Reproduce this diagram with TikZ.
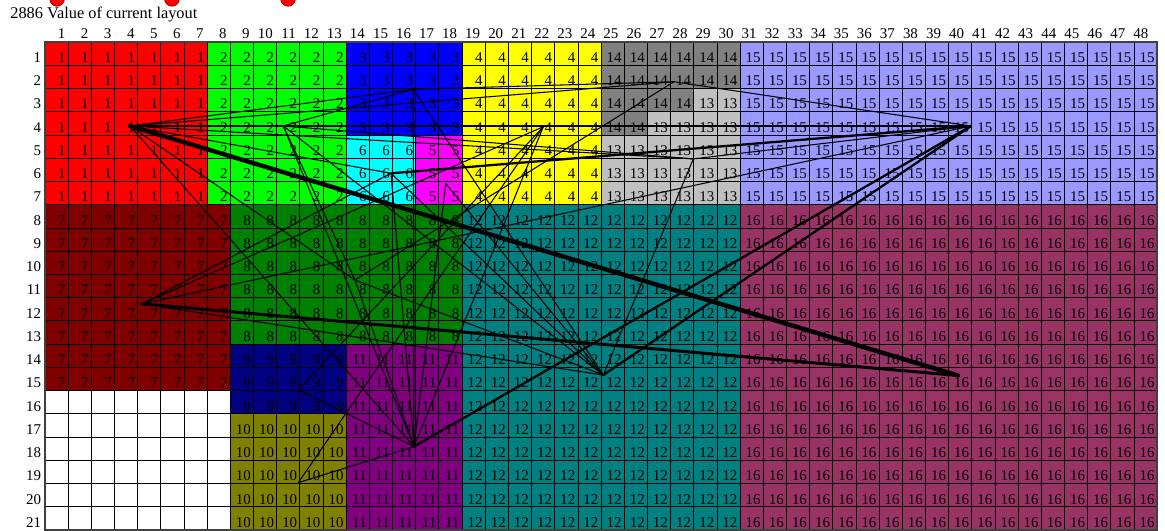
\documentclass[tikz,border=0pt]{standalone}
\usepackage{fontspec}
\setmainfont{Liberation Serif}
\usetikzlibrary{positioning, calc}
\definecolor{dep1}{RGB}{255,0,0}
\definecolor{dep2}{RGB}{0,255,0}
\definecolor{dep3}{RGB}{0,0,255}
\definecolor{dep4}{RGB}{255,255,0}
\definecolor{dep5}{RGB}{255,0,255}
\definecolor{dep6}{RGB}{0,255,255}
\definecolor{dep7}{RGB}{128,0,0}
\definecolor{dep8}{RGB}{0,128,0}
\definecolor{dep9}{RGB}{0,0,128}
\definecolor{dep10}{RGB}{128,128,0}
\definecolor{dep11}{RGB}{128,0,128}
\definecolor{dep12}{RGB}{0,128,128}
\definecolor{dep13}{RGB}{192,192,192}
\definecolor{dep14}{RGB}{128,128,128}
\definecolor{dep15}{RGB}{153,153,255}
\definecolor{dep16}{RGB}{153,51,102}

\begin{document}
\begin{tikzpicture}[
    x=0.4634cm, y=-0.4648cm,
    cellnum/.style={anchor=base east, inner sep=0pt, font=\fontsize{8.5}{9}\selectfont},
    hdr/.style={anchor=base east, inner sep=0pt, font=\fontsize{8.5}{9}\selectfont},
    gridln/.style={line width=0.45pt, black},
    flow/.style={line width=0.6pt, line cap=round},
    flowmid/.style={line width=1.3pt, line cap=round},
    flowthick/.style={line width=1.7pt, line cap=round},
    flowheavy/.style={line width=2.5pt, line cap=round}
]
\useasboundingbox (-1.942,-1.807) rectangle (48.338,21.04);

% red markers cut by the top edge
\begin{scope}
\clip (-1.942,-1.807) rectangle (48.338,21.04);
\foreach \mx [count=\i] in {0.52,5.48,10.49}
  \draw[fill=red, draw=red!60!black, line width=0.4pt] (\mx,-1.86) circle[radius=0.32];
\end{scope}

\node[anchor=base west, inner sep=0pt, font=\fontsize{9.3}{10}\selectfont] (title) at (-1.51,-1.03) {2886 Value of current layout};

% headers
\foreach \c in {1,...,48}
  \node[hdr] (col\c) at ({\c-0.1-0.0055*\c},-0.17) {\c};
\foreach \r in {1,...,21}
  \node[hdr] (row\r) at (-0.15,\r-0.12) {\r};

% departments: first col/last col/first row/last row/number/colour
\foreach \ca/\cb/\ra/\rb/\d/\col in {
    1/7/1/7/1/dep1, 8/13/1/7/2/dep2, 14/18/1/4/3/dep3, 14/16/5/7/6/dep6,
    17/18/5/7/5/dep5, 19/24/1/7/4/dep4, 25/30/1/2/14/dep14, 25/28/3/3/14/dep14,
    25/26/4/4/14/dep14, 29/30/3/3/13/dep13, 27/30/4/4/13/dep13, 25/30/5/7/13/dep13,
    31/48/1/7/15/dep15, 1/8/8/15/7/dep7, 9/18/8/13/8/dep8, 9/13/14/16/9/dep9,
    9/13/17/21/10/dep10, 14/18/14/21/11/dep11, 19/30/8/21/12/dep12, 31/48/8/21/16/dep16}
  \fill[\col] (\ca-1,\ra-1) rectangle (\cb,\rb);

\foreach \c in {0,...,48}
  \draw[gridln] (\c,0) -- (\c,21);
\foreach \r in {0,...,21}
  \draw[gridln] (0,\r) -- (48,\r);
\draw[line width=0.8pt, black!75] (0,0) rectangle (48,21);

\foreach \ca/\cb/\ra/\rb/\d in {
    1/7/1/7/1, 8/13/1/7/2, 14/18/1/4/3, 14/16/5/7/6,
    17/18/5/7/5, 19/24/1/7/4, 25/30/1/2/14, 25/28/3/3/14,
    25/26/4/4/14, 29/30/3/3/13, 27/30/4/4/13, 25/30/5/7/13,
    31/48/1/7/15, 1/8/8/15/7, 9/18/8/13/8, 9/13/14/16/9,
    9/13/17/21/10, 14/18/14/21/11, 19/30/8/21/12, 31/48/8/21/16}
  \foreach \c in {\ca,...,\cb}
    \foreach \r in {\ra,...,\rb}
      \node[cellnum] (n\c-\r) at (\c-0.1,\r-0.12) {\d};

% flow end points
\coordinate (d1) at (3.669,3.614);
\coordinate (d2) at (10.285,3.614);
\coordinate (d3) at (15.896,2.035);
\coordinate (d4) at (21.506,3.645);
\coordinate (d5) at (17.3,6.1);
\coordinate (d6) at (14.933,5.65);
\coordinate (d7) at (4.186,11.27);
\coordinate (d8) at (13.379,10.24);
\coordinate (d9) at (10.932,14.97);
\coordinate (d10) at (10.932,18.96);
\coordinate (d11) at (15.926,17.41);
\coordinate (d12) at (24.096,14.33);
\coordinate (d13) at (27.98,5.03);
\coordinate (d14) at (27.147,1.71);
\coordinate (d15) at (39.965,3.614);
\coordinate (d16) at (39.405,14.35);

% flows
\foreach \a/\b in {1/2, 1/3, 1/6, 1/8, 1/11, 1/13, 1/14, 2/3, 2/8, 2/11, 2/13,
    2/15, 2/12, 3/11, 3/12, 3/14, 4/9, 4/10, 4/11, 5/11, 5/12, 6/11, 6/12, 7/6,
    7/15, 7/4, 7/12, 8/11, 8/12, 8/14, 9/11, 10/11, 12/13, 14/15, 13/15}
  \draw[flow] (d\a) -- (d\b);
\draw[flowmid] (d6) -- (d15);
\draw[flowmid] (d11) -- (d15);
\draw[flowmid] (d12) -- (d15);
\draw[flowthick] (d7) -- (d16);
\draw[flowheavy] (d1) -- (d16);
\end{tikzpicture}
\end{document}
